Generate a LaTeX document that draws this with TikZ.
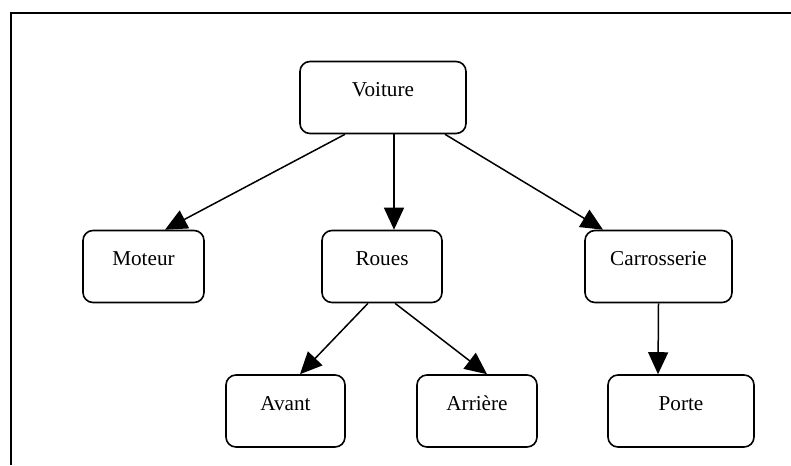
\documentclass[tikz,border=0pt]{standalone}
\usepackage{fontspec}
\setmainfont{Liberation Serif}
\usetikzlibrary{arrows.meta}

\tikzset{
    box/.style={draw, line width=0.8pt, rounded corners=5pt, inner xsep=0pt, inner ysep=0pt,
        text height=17.5pt, text depth=18.5pt, font=\fontsize{10.6}{12}\selectfont},
    link/.style={line width=0.75pt, -{Triangle[length=11pt, width=10pt]}}
}

\begin{document}
\begin{tikzpicture}[x=0.5pt, y=-0.5pt]

    \useasboundingbox (0,0) rectangle (791,465);

    % Frame
    \draw[line width=1pt] (791,13) -- (11,13) -- (11,465);

    % Top box
    \node[box, minimum width=83pt] (voiture) at (383,97.5) {Voiture};

    % Second row
    \node[box, minimum width=60.5pt] (moteur) at (143.5,266.5) {Moteur};
    \node[box, minimum width=60pt] (roues) at (382,266.5) {Roues};
    \node[box, minimum width=73.5pt] (carrosserie) at (658.5,266.5) {Carrosserie};

    % Third row
    \node[box, minimum width=59.5pt] (avant) at (285.5,411) {Avant};
    \node[box, minimum width=60pt] (arriere) at (477,411) {Arrière};
    \node[box, minimum width=73pt] (porte) at (681,411) {Porte};

    % Arrows from Voiture
    \draw[link] ([xshift=-19pt]voiture.south) -- ([xshift=10.75pt]moteur.north);
    \draw[link] ([xshift=5.5pt]voiture.south) -- ([xshift=6pt]roues.north);
    \draw[link] ([xshift=31pt]voiture.south) -- ([xshift=-27.75pt]carrosserie.north);

    % Arrows from Roues
    \draw[link] ([xshift=-7pt]roues.south) -- ([xshift=7.25pt]avant.north);
    \draw[link] ([xshift=6.5pt]roues.south) -- ([xshift=5pt]arriere.north);

    % Arrow from Carrosserie
    \draw[link] (carrosserie.south) -- ([xshift=-11.5pt]porte.north);

\end{tikzpicture}
\end{document}
